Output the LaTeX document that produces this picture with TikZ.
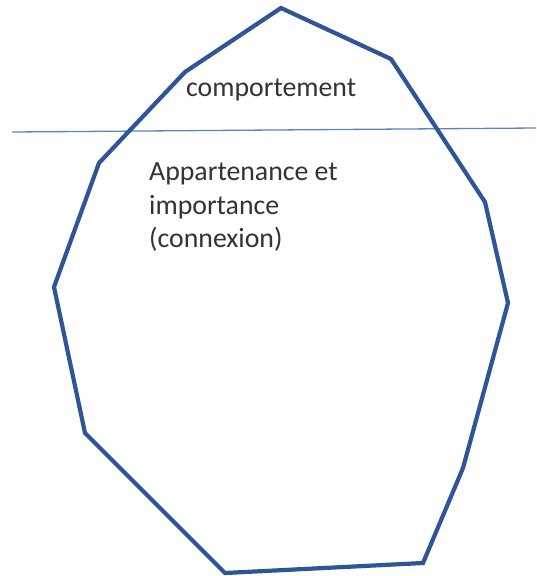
\documentclass[tikz,border=0pt]{standalone}
\usepackage{fontspec}
\setmainfont{Carlito}
\definecolor{bergblue}{HTML}{2F5597}
\definecolor{waterblue}{HTML}{5B84C8}
\definecolor{labelgray}{HTML}{333333}
\tikzset{
  berg/.style={draw=bergblue, line width=4.2pt, line join=miter},
  waterline/.style={draw=waterblue, line width=1.3pt},
  label/.style={text=labelgray, inner sep=0pt, anchor=base west,
    font=\fontsize{27.8}{33}\selectfont},
}
\begin{document}
\begin{tikzpicture}[x=1pt, y=-1pt]
  \useasboundingbox[fill=white] (0,0) rectangle (536,576);
  % waterline
  \coordinate (wl) at (12,132);
  \coordinate (wr) at (536,128);
  \draw[waterline] (wl) -- (wr);
  % iceberg outline
  \draw[berg] (281,8) -- (391,59) -- (485,202) -- (508,303) -- (463,468)
    -- (423,563) -- (225,573) -- (85,433) -- (54,287) -- (99,163)
    -- (185,72) -- cycle;
  % labels
  \node[label] (above) at (186,96) {comportement};
  \node[label] (l1) at (149,180) {Appartenance et};
  \node[label] (l2) at (149,214) {importance};
  \node[label] (l3) at (149,247) {(connexion)};
\end{tikzpicture}
\end{document}
